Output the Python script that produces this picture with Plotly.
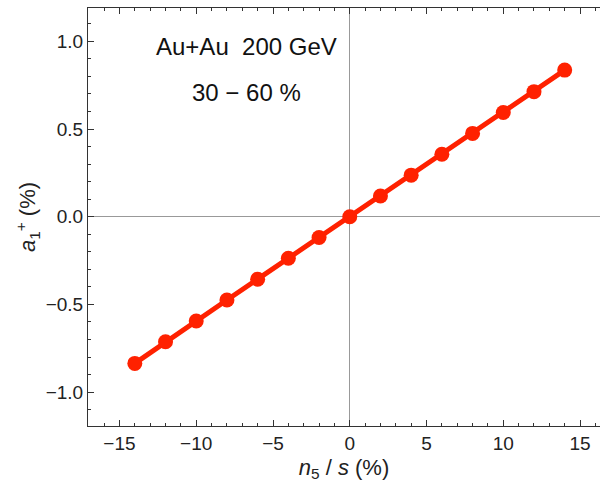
import plotly.graph_objects as go

x_vals = [-14, -12, -10, -8, -6, -4, -2, 0, 2, 4, 6, 8, 10, 12, 14]
y_vals = [-0.836, -0.713, -0.594, -0.475, -0.356, -0.237, -0.118, 0.0,
          0.118, 0.237, 0.356, 0.475, 0.594, 0.713, 0.836]
x_ticks = [-15, -10, -5, 0, 5, 10, 15]
x_tick_labels = ["\u221215", "\u221210", "\u22125", "0", "5", "10", "15"]
y_ticks = [-1.0, -0.5, 0.0, 0.5, 1.0]
y_tick_labels = ["\u22121.0", "\u22120.5", "0.0", "0.5", "1.0"]

red = "#ff2100"
font = "Liberation Sans, Arial, sans-serif"

fig = go.Figure()
fig.add_trace(go.Scatter(
    x=x_vals, y=y_vals, mode="lines+markers",
    line=dict(color=red, width=5),
    marker=dict(color=red, size=15),
    showlegend=False,
))

axis_common = dict(
    showline=True, linecolor="#333333", linewidth=1,
    ticks="inside", ticklen=6, tickwidth=1, tickcolor="#333333",
    showgrid=False, zeroline=True, zerolinecolor="#999999", zerolinewidth=1,
    tickfont=dict(family=font, size=19, color="#222222"),
    automargin=False,
)

fig.update_layout(
    width=600, height=485,
    margin=dict(l=88, r=0, t=8, b=59),
    plot_bgcolor="white", paper_bgcolor="white",
    xaxis=dict(
        range=[-17.05, 16.3], tickvals=x_ticks, ticktext=x_tick_labels,
        mirror="ticks",
        minor=dict(dtick=1, ticks="inside", ticklen=3, tickcolor="#333333", showgrid=False),
        title=dict(text="<i>n</i><sub>5</sub> / <i>s</i> (%)", font=dict(family=font, size=22, color="#222222"), standoff=6),
        **axis_common,
    ),
    yaxis=dict(
        range=[-1.193, 1.19], tickvals=y_ticks, ticktext=y_tick_labels,
        mirror=False,
        minor=dict(dtick=0.1, ticks="inside", ticklen=3, tickcolor="#333333", showgrid=False),
        title=dict(text="<i>a</i><sub>1</sub><sup>+</sup> (%)", font=dict(family=font, size=22, color="#222222"), standoff=3),
        **axis_common,
    ),
)
fig.add_annotation(text="Au+Au  200 GeV", x=-6.75, y=0.97, xref="x", yref="y", showarrow=False,
                   font=dict(family=font, size=24, color="#111111"))
fig.add_annotation(text="30 \u2212 60 %", x=-6.75, y=0.71, xref="x", yref="y", showarrow=False,
                   font=dict(family=font, size=24, color="#111111"))

fig.write_html(
    "out.html",
    config={"displayModeBar": False},
    post_script="document.body.style.margin='0';document.body.style.overflow='hidden';",
)
